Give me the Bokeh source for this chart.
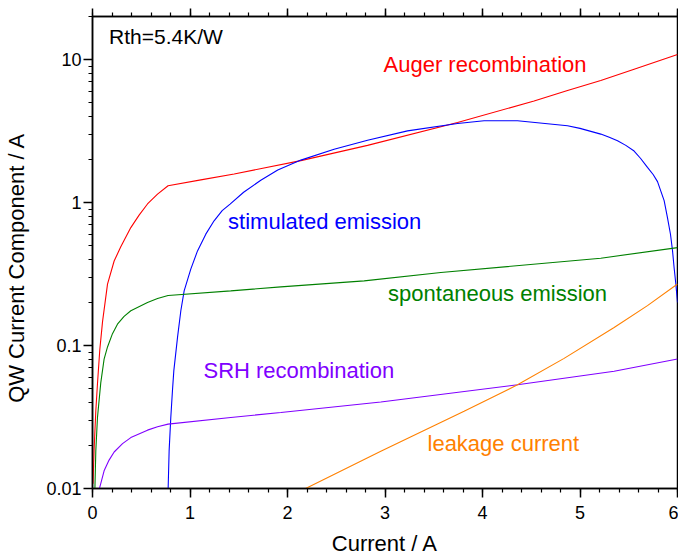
from bokeh.plotting import figure
from bokeh.models import (Range1d, LinearAxis, FixedTicker, NumeralTickFormatter, Label)
from bokeh.embed import file_html
from bokeh.resources import INLINE

# ---- data ----
auger_x = [0.005, 0.016, 0.034, 0.051, 0.075, 0.103, 0.154, 0.222, 0.29, 0.393, 0.478,
           0.564, 0.667, 0.775, 1.111, 1.453, 2.137, 2.821, 3.744, 4.529, 4.872, 5.213,
           5.555, 6.0]
auger_y = [0.0108, 0.0184, 0.035, 0.054, 0.0938, 0.147, 0.269, 0.39, 0.49, 0.668, 0.817,
           0.977, 1.145, 1.31, 1.44, 1.585, 1.963, 2.51, 3.63, 5.13, 6.07, 7.13,
           8.55, 10.84]

stim_x = [0.775, 0.786, 0.803, 0.82, 0.834, 0.872, 0.906, 0.94, 1.008, 1.077, 1.162,
          1.247, 1.33, 1.411, 1.55, 1.726, 1.9, 2.137, 2.478, 2.821, 3.231, 3.744, 4.016,
          4.359, 4.872, 5.0, 5.213, 5.3, 5.385, 5.47, 5.555, 5.62, 5.692, 5.75, 5.795,
          5.863, 5.897, 5.928, 5.949, 5.965, 5.983, 6.0]
stim_y = [0.0095, 0.0184, 0.0314, 0.0482, 0.0665, 0.114, 0.175, 0.241, 0.342, 0.459, 0.601,
          0.745, 0.877, 0.975, 1.18, 1.43, 1.69, 1.98, 2.36, 2.73, 3.17, 3.57, 3.73,
          3.73, 3.44, 3.3, 3.01, 2.86, 2.70, 2.51, 2.29, 2.04, 1.76, 1.57, 1.40,
          1.03, 0.785, 0.60, 0.46, 0.351, 0.269, 0.2]

spont_x = [0.024, 0.034, 0.051, 0.085, 0.119, 0.154, 0.205, 0.256, 0.324, 0.393, 0.564,
           0.667, 0.775, 1.418, 1.932, 2.786, 3.573, 5.213, 6.0]
spont_y = [0.0095, 0.0184, 0.0314, 0.055, 0.0804, 0.0977, 0.121, 0.141, 0.16, 0.175, 0.20,
           0.213, 0.224, 0.241, 0.257, 0.283, 0.324, 0.408, 0.484]

srh_x = [0.068, 0.119, 0.17, 0.222, 0.308, 0.393, 0.564, 0.667, 0.775, 1.418, 1.932,
         2.957, 4.359, 5.35, 6.0]
srh_y = [0.0098, 0.0133, 0.0158, 0.018, 0.0206, 0.0227, 0.0256, 0.027, 0.0282, 0.0314,
         0.034, 0.0403, 0.0531, 0.066, 0.0804]

leak_x = [2.16, 2.957, 3.811, 4.359, 4.837, 5.35, 5.692, 6.0]
leak_y = [0.0098, 0.0182, 0.0347, 0.0531, 0.0813, 0.1336, 0.19, 0.269]

x_ticks = [0, 1, 2, 3, 4, 5, 6]
x_minor = [i * 0.2 for i in range(31)]
y_ticks = [0.01, 0.1, 1, 10]
y_minor = [m * d for d in [0.01, 0.1, 1, 10] for m in range(2, 10)]

FONT = "Liberation Sans"

p = figure(width=678, height=559, output_backend="svg", toolbar_location=None,
           y_axis_type="log", x_range=Range1d(0, 6), y_range=Range1d(0.01, 20),
           min_border_left=92, min_border_right=1, min_border_top=16, min_border_bottom=71)
p.xgrid.visible = False
p.ygrid.visible = False
p.outline_line_color = "black"
p.outline_line_width = 1.5
p.background_fill_color = "white"
p.border_fill_color = "white"

def style_axis(ax):
    ax.axis_line_color = "black"
    ax.axis_line_width = 1.5
    ax.major_tick_line_width = 1.5
    ax.minor_tick_line_width = 1.2
    ax.major_tick_in = 0
    ax.minor_tick_in = 0
    ax.major_tick_out = 9
    ax.minor_tick_out = 4
    ax.major_label_text_font = FONT
    ax.major_label_text_font_size = "18px"
    ax.major_label_text_color = "black"
    ax.axis_label_text_font = FONT
    ax.axis_label_text_font_size = "22px"
    ax.axis_label_text_font_style = "normal"
    ax.axis_label_text_color = "black"

xa = p.xaxis[0]
xa.ticker = FixedTicker(ticks=x_ticks, minor_ticks=x_minor)
style_axis(xa)
xa.major_label_standoff = 8
xa.axis_label = "Current / A"
xa.axis_label_standoff = 9

ya = p.yaxis[0]
ya.ticker = FixedTicker(ticks=y_ticks, minor_ticks=y_minor)
ya.formatter = NumeralTickFormatter(format="0.[00]")
style_axis(ya)
ya.major_label_standoff = 2
ya.axis_label = "QW Current Component / A" + "\u00a0" * 5
ya.axis_label_standoff = 14

top = LinearAxis(ticker=FixedTicker(ticks=x_ticks, minor_ticks=x_minor))
style_axis(top)
top.major_tick_out = 8
top.major_label_text_font_size = "1px"
top.major_label_text_color = None
top.major_label_standoff = 0
p.add_layout(top, "above")

# ---- curves ----
p.line(auger_x, auger_y, color="#ff0000", line_width=1.1)
p.line(stim_x, stim_y, color="#0000ff", line_width=1.1)
p.line(spont_x, spont_y, color="#008000", line_width=1.1)
p.line(srh_x, srh_y, color="#8000ff", line_width=1.1)
p.line(leak_x, leak_y, color="#ff8000", line_width=1.1)

# ---- annotations ----
def lab(text, x, y, color, size="22px", **kw):
    p.add_layout(Label(x=x, y=y, text=text, text_color=color, text_font=FONT,
                       text_font_size=size, **kw))

lab("Rth=5.4K/W", 0.17, 12.1, "black", size="21px")
lab("Auger recombination", 2.985, 7.57, "#ff0000")
lab("stimulated emission", 1.391, 0.601, "#0000ff")
lab("spontaneous emission", 3.032, 0.1896, "#008000")
lab("SRH recombination", 1.138, 0.0551, "#8000ff")
lab("leakage current", 3.436, 0.0169, "#ff8000")

open("out.html", "w").write(file_html(p, INLINE))
